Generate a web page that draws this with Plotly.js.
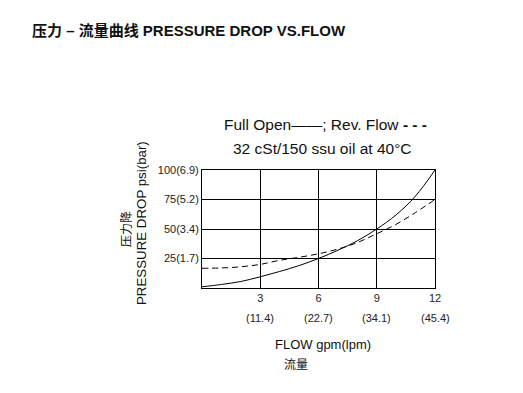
<!DOCTYPE html>
<html>
<head>
<meta charset="utf-8">
<script src="https://cdn.plot.ly/plotly-3.0.1.min.js"></script>
<style>html,body{margin:0;padding:0;background:#fff;}#chart{width:523px;height:393px;}</style>
</head>
<body>
<div id="chart"></div>
<script>
// Data
const flowGpm = [0, 1, 2, 3, 4, 5, 6, 7, 8, 9, 10, 11, 12];
const fullOpenPsi = [1, 3, 5.5, 9.5, 14, 19, 25, 32, 40, 50, 62, 78, 100];
const revFlowPsi = [16.7, 17, 18, 20, 23.5, 26, 29, 33, 38.5, 46, 54, 64, 75];
const xTickVals = [3, 6, 9, 12];
const xTickGpm = ['3', '6', '9', '12'];
const xTickLpm = ['(11.4)', '(22.7)', '(34.1)', '(45.4)'];
const yTickVals = [25, 50, 75, 100];
const yTickText = ['25(1.7)', '50(3.4)', '75(5.2)', '100(6.9)'];

const font = 'Liberation Sans, Arial, Noto Sans CJK SC, sans-serif';
const cjk = 'Noto Sans CJK SC, Liberation Sans, sans-serif';

const traces = [
  {x: flowGpm, y: fullOpenPsi, mode: 'lines', line: {color: '#000', width: 1, shape: 'spline'}, hoverinfo: 'skip'},
  {x: flowGpm, y: revFlowPsi, mode: 'lines', line: {color: '#000', width: 1, dash: '6px,4px', shape: 'spline'}, hoverinfo: 'skip'}
];

const px = v => (v - 202) / 233;
const py = v => (288 - v) / 118;

const annotations = [
  {text: '<b>压力 – 流量曲线 PRESSURE DROP VS.FLOW</b>', xref: 'paper', yref: 'paper', x: px(30), y: py(30), xanchor: 'left', yanchor: 'middle', showarrow: false, font: {family: font, size: 15, color: '#111'}},
  {text: 'Full Open——; Rev. Flow <b>- - -</b>', xref: 'paper', yref: 'paper', x: px(325), y: py(124), xanchor: 'center', yanchor: 'middle', showarrow: false, font: {family: font, size: 15.5, color: '#111'}},
  {text: '32 cSt/150 ssu oil at 40°C', xref: 'paper', yref: 'paper', x: px(322), y: py(148), xanchor: 'center', yanchor: 'middle', showarrow: false, font: {family: font, size: 15.5, color: '#111'}},
  {text: 'PRESSURE DROP psi(bar)', xref: 'paper', yref: 'paper', x: px(141), y: py(223), xanchor: 'center', yanchor: 'middle', textangle: -90, showarrow: false, font: {family: font, size: 13.3, color: '#111'}},
  {text: '压力降', xref: 'paper', yref: 'paper', x: px(125), y: py(229), xanchor: 'center', yanchor: 'middle', textangle: -90, showarrow: false, font: {family: cjk, size: 12, color: '#111'}},
  {text: 'FLOW gpm(lpm)', xref: 'paper', yref: 'paper', x: px(323), y: py(344), xanchor: 'center', yanchor: 'middle', showarrow: false, font: {family: font, size: 13, color: '#111'}},
  {text: '流量', xref: 'paper', yref: 'paper', x: px(296), y: py(363), xanchor: 'center', yanchor: 'middle', showarrow: false, font: {family: cjk, size: 12, color: '#111'}}
];
xTickVals.forEach((v, i) => {
  annotations.push({text: xTickLpm[i], x: v, xref: 'x', yref: 'paper', y: py(318), xanchor: 'center', yanchor: 'middle', showarrow: false, font: {family: font, size: 11, color: '#222'}});
});

const layout = {
  width: 523, height: 393,
  margin: {l: 202, r: 88, t: 170, b: 105},
  paper_bgcolor: '#fff', plot_bgcolor: '#fff',
  showlegend: false,
  xaxis: {range: [0, 12], tickvals: xTickVals, ticktext: xTickGpm, showgrid: true, gridcolor: '#000', gridwidth: 1,
          zeroline: false, showline: true, linecolor: '#000', linewidth: 1, mirror: true, ticks: '',
          tickfont: {family: font, size: 11, color: '#222'}, fixedrange: true},
  yaxis: {range: [0, 100], tickvals: yTickVals, ticktext: yTickText, showgrid: true, gridcolor: '#000', gridwidth: 1,
          zeroline: false, showline: true, linecolor: '#000', linewidth: 1, mirror: true, ticks: '',
          tickfont: {family: font, size: 11, color: '#222'}, fixedrange: true},
  annotations: annotations
};

Plotly.newPlot('chart', traces, layout, {displayModeBar: false, staticPlot: true});
</script>
</body>
</html>
